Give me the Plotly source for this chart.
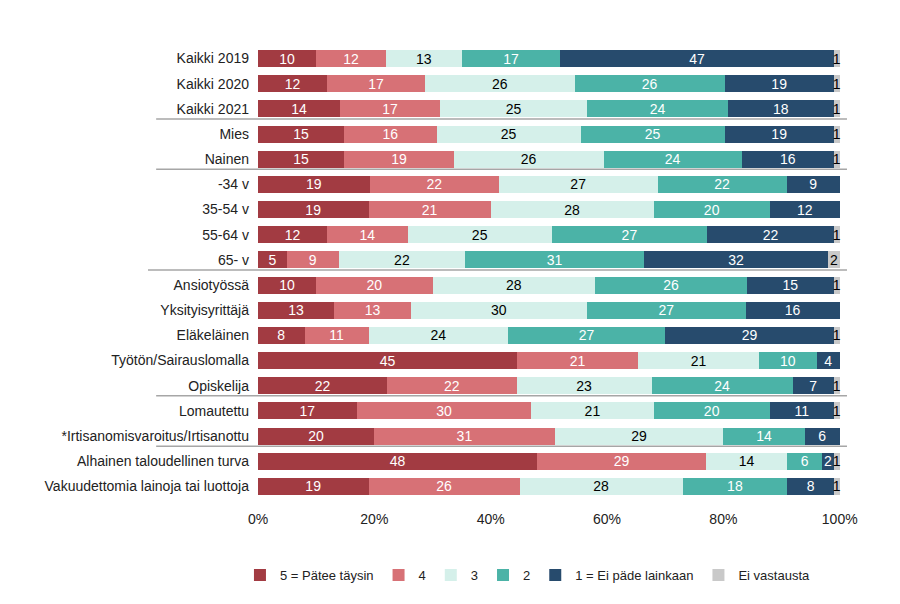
import plotly.graph_objects as go

categories = [
    "Kaikki 2019", "Kaikki 2020", "Kaikki 2021", "Mies", "Nainen",
    "-34 v", "35-54 v", "55-64 v", "65- v",
    "Ansiotyössä", "Yksityisyrittäjä", "Eläkeläinen", "Työtön/Sairauslomalla", "Opiskelija",
    "Lomautettu", "*Irtisanomisvaroitus/Irtisanottu",
    "Alhainen taloudellinen turva", "Vakuudettomia lainoja tai luottoja",
]

s5 = [10, 12, 14, 15, 15, 19, 19, 12, 5, 10, 13, 8, 45, 22, 17, 20, 48, 19]
s4 = [12, 17, 17, 16, 19, 22, 21, 14, 9, 20, 13, 11, 21, 22, 30, 31, 29, 26]
s3 = [13, 26, 25, 25, 26, 27, 28, 25, 22, 28, 30, 24, 21, 23, 21, 29, 14, 28]
s2 = [17, 26, 24, 25, 24, 22, 20, 27, 31, 26, 27, 27, 10, 24, 20, 14, 6, 18]
s1 = [47, 19, 18, 19, 16, 9, 12, 22, 32, 15, 16, 29, 4, 7, 11, 6, 2, 8]
s0 = [1, 1, 1, 1, 1, 0, 0, 1, 2, 1, 0, 1, 0, 1, 1, 0, 1, 1]

names = ["5 = Pätee täysin", "4", "3", "2", "1 = Ei päde lainkaan", "Ei vastausta"]
colors = ["#A23B42", "#D77176", "#D5F0EA", "#4BB3A7", "#274B6D", "#C9C9C9"]
txtcolors = ["white", "white", "black", "white", "white", "black"]

# groups end after these rows -> separator lines
separators = ["Kaikki 2021", "Nainen", "65- v", "Opiskelija", "*Irtisanomisvaroitus/Irtisanottu"]

fig = go.Figure()
for vals, name, col, tc in zip([s5, s4, s3, s2, s1, s0], names, colors, txtcolors):
    labels = [str(v) if v > 0 else "" for v in vals]
    fig.add_trace(go.Bar(
        y=categories,
        x=vals,
        name=name,
        orientation="h",
        marker=dict(color=col, line=dict(width=0)),
        text=labels,
        textposition="inside",
        insidetextanchor="middle",
        textangle=0,
        textfont=dict(color=tc, size=14),
        cliponaxis=False,
        hoverinfo="name+x",
    ))

for cat in separators:
    i = categories.index(cat)
    x0 = -0.189 if cat == "65- v" else -0.175
    fig.add_shape(type="line", xref="paper", yref="y",
                  x0=x0, x1=1.012, y0=i + 0.4, y1=i + 0.4,
                  line=dict(color="#A6A6A6", width=1.5))

# page body adds an 8px offset, so the figure is a bit smaller than the window
fig.update_layout(
    width=892, height=596,
    barmode="stack",
    barnorm="percent",
    bargap=0.32,
    plot_bgcolor="white",
    paper_bgcolor="white",
    font=dict(family="Liberation Sans, Arial, sans-serif", size=14, color="#222222"),
    margin=dict(l=250, r=60, t=38, b=105, autoexpand=False),
    uniformtext=dict(minsize=14, mode="show"),
    legend=dict(orientation="h", x=-0.031, y=-0.135, xanchor="left", yanchor="top",
                font=dict(size=13), traceorder="normal", itemwidth=30),
    xaxis=dict(range=[0, 100.05], tickvals=[0, 20, 40, 60, 80, 100],
               ticktext=["0%", "20%", "40%", "60%", "80%", "100%"],
               showgrid=False, zeroline=False, showline=False,
               tickfont=dict(size=14), ticks="", ticklabelstandoff=10,
               fixedrange=True),
    yaxis=dict(autorange="reversed", showgrid=False, ticks="", ticklen=0,
               tickfont=dict(size=14), ticklabelstandoff=8,
               fixedrange=True, automargin=False),
    showlegend=True,
)

fig.write_html("out.html")
